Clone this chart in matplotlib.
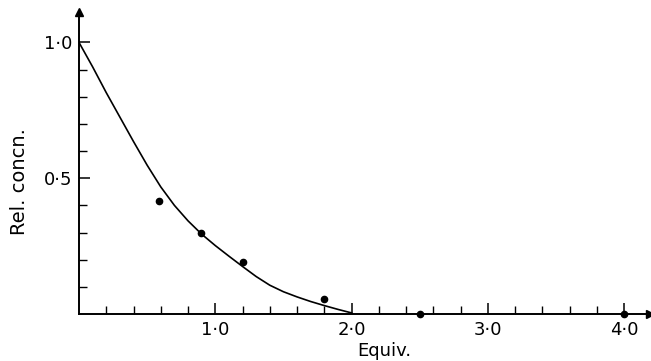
import numpy as np
import matplotlib.pyplot as plt

# measured points
equiv = [0.59, 0.895, 1.20, 1.80, 2.50, 4.00]
conc = [0.415, 0.30, 0.19, 0.056, 0.0, 0.0]

# fitted curve
curve_x = [0.0, 0.1, 0.2, 0.3, 0.4, 0.5, 0.6, 0.7, 0.8, 0.9, 1.0, 1.1, 1.2, 1.3,
           1.4, 1.5, 1.6, 1.7, 1.8, 1.9, 2.0]
curve_y = [1.0, 0.91, 0.815, 0.725, 0.635, 0.548, 0.468, 0.40, 0.343, 0.294, 0.252,
           0.213, 0.175, 0.138, 0.106, 0.082, 0.063, 0.046, 0.031, 0.017, 0.004]

xticks = [1.0, 2.0, 3.0, 4.0]
xlabels = ['1·0', '2·0', '3·0', '4·0']
yticks = [0.5, 1.0]
ylabels = ['0·5', '1·0']

fig = plt.figure(figsize=(6.51, 3.61), dpi=100)
ax = fig.add_axes([79/651, 47/361, 571/651, 302/361])

ax.plot(curve_x, curve_y, color='black', lw=1.2)
ax.plot(equiv, conc, 'o', color='black', ms=4.5, clip_on=False, zorder=5)

ax.set_xlim(0, 4.19)
ax.set_ylim(0, 1.112)

for s in ['top', 'right']:
    ax.spines[s].set_visible(False)
for s in ['left', 'bottom']:
    ax.spines[s].set_linewidth(1.4)

# arrow heads
ax.plot(1, 0, '>k', ms=6, transform=ax.get_yaxis_transform(), clip_on=False)
ax.plot(0, 1, '^k', ms=6, transform=ax.get_xaxis_transform(), clip_on=False)

ax.set_xticks(xticks)
ax.set_xticklabels(xlabels)
ax.set_xticks(np.arange(0.2, 4.1, 0.2), minor=True)
ax.set_yticks(yticks)
ax.set_yticklabels(ylabels)
ax.set_yticks(np.arange(0.1, 1.01, 0.1), minor=True)
ax.tick_params(which='major', direction='in', length=8, width=1.1, labelsize=13, pad=5)
ax.tick_params(which='minor', direction='in', length=6, width=1.0)

ax.set_xlabel('Equiv.', fontsize=13, labelpad=0)
ax.xaxis.set_label_coords(0.534, -0.092)
ax.set_ylabel('Rel. concn.', fontsize=14)
ax.yaxis.set_label_coords(-0.087, 0.44)

fig.savefig('out.png', dpi=100)
